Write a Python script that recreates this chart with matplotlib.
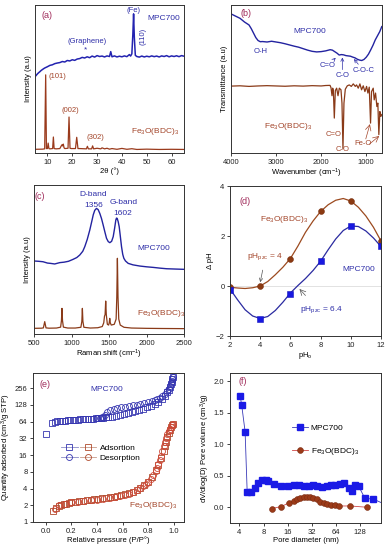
import matplotlib
matplotlib.use("Agg")
import matplotlib.pyplot as plt
from matplotlib.lines import Line2D
from matplotlib.legend_handler import HandlerTuple

plt.rcParams['font.family'] = ['Liberation Sans', 'DejaVu Sans']
plt.rcParams['mathtext.default'] = 'regular'

BLUE = '#2e2ea8'
BROWN = '#a3452a'
LBL = '#a02a5a'
FS_T = 5.5
FS_A = 6.0
FE = 'Fe$_3$O(BDC)$_3$'

# ---------------- (a) XRD ----------------
xrd_mpc_x = [5, 5.5, 6, 6.5, 7, 7.5, 8, 8.5, 9, 10, 11, 12, 13, 14, 15, 16, 17, 18, 19, 20,
             21, 22, 23, 24, 25, 26, 27, 28, 29, 30, 31, 32, 33, 34, 35, 35.5, 36, 37, 38, 39,
             40, 41, 42, 43, 43.5, 44, 44.4, 44.7, 45.0, 45.4, 46, 47, 48, 49, 50, 51, 52, 53,
             54, 55, 56, 57, 58, 59, 60, 61, 62, 63, 64, 65]
xrd_mpc_y = [51.5, 52.5, 53.5, 54.3, 55, 55.8, 56.4, 57, 57.5, 58.3, 59.2, 59.6, 60.4, 60.8, 61.1,
             61.8, 61.5, 62.5, 62.2, 63, 62.6, 63.5, 63.8, 64.6, 64.2, 65, 64.4, 65.5, 64.8, 65.8,
             65.2, 65.5, 64.9, 65.6, 65.2, 68.5, 65, 65.6, 64.9, 65.4, 65, 65.6, 65.1, 66.5, 65.5,
             67, 80, 94, 78, 66, 65.2, 64.8, 65.5, 64.9, 65.4, 65, 65.6, 65.1, 65.5, 64.9, 65.6,
             65.2, 65.8, 65, 65.6, 65.2, 65.7, 65.1, 65.8, 65.4]
xrd_fe_x = [5, 8, 8.9, 9.3, 9.6, 10.0, 10.3, 10.6, 11, 12.1, 12.4, 12.7, 13.5, 15, 15.8, 16.1,
            16.4, 16.7, 17, 18.3, 18.7, 19.1, 19.6, 21.3, 21.8, 22.3, 23, 25.7, 26.1, 26.5, 27.8,
            28.2, 28.6, 30, 31.5, 32, 33, 34, 35, 36, 38, 40, 42, 44, 46, 50, 55, 60, 65]
xrd_fe_y = [2.5, 2.6, 2.8, 52.8, 3.0, 3.0, 6.7, 3.0, 2.8, 3.0, 10.8, 3.0, 2.8, 3.0, 5.5, 4.8,
            6.0, 3.5, 3.0, 3.2, 24.3, 3.2, 3.0, 3.0, 10.6, 3.0, 3.0, 2.8, 4.5, 2.8, 2.8, 4.8, 2.8,
            3.2, 2.8, 3.5, 2.8, 3.2, 2.6, 3.0, 2.5, 3.1, 2.5, 2.9, 2.4, 2.6, 2.4, 2.5, 2.4]
xrd_xticks = [10, 20, 30, 40, 50, 60]

# ---------------- (b) FTIR ----------------
ftir_mpc_x = [4000, 3900, 3800, 3700, 3600, 3550, 3500, 3450, 3400, 3350, 3300, 3200, 3100, 3000,
              2900, 2800, 2700, 2600, 2500, 2400, 2300, 2200, 2100, 2000, 1900, 1800, 1750, 1700,
              1650, 1600, 1550, 1500, 1450, 1400, 1350, 1300, 1250, 1200, 1150, 1100, 1050, 1000,
              950, 900, 850, 800, 750, 700, 655]
ftir_mpc_y = [94, 92.5, 91, 88.5, 86.5, 84, 81, 78, 76, 75.2, 75.3, 75, 75.5, 75, 74.5, 73.8, 73,
              72.2, 71.5, 70.5, 69.5, 68.7, 68.3, 68.5, 69, 69.8, 69.5, 68.5, 67.5, 66.2, 66.5,
              66.3, 65.8, 65.6, 65.4, 64.8, 64.3, 63.4, 62.8, 62.5, 63.2, 64.7, 66.8, 69.7, 72.8,
              76.4, 79.2, 82, 85.4]
ftir_fe_x = [4000, 3800, 3600, 3400, 3200, 3000, 2800, 2600, 2400, 2200, 2000, 1900, 1803, 1781,
             1759, 1744, 1729, 1708, 1685, 1656, 1626, 1597, 1560, 1538, 1516, 1494, 1464, 1420,
             1376, 1331, 1287, 1243, 1214, 1177, 1140, 1103, 1066, 1029, 992, 963, 933, 904, 882,
             845, 823, 793, 764, 742, 720, 697, 675, 655]
ftir_fe_y = [45.2, 45.4, 45.0, 45.3, 45.5, 45.3, 45.1, 45.4, 45.2, 45.5, 45.3, 45.6, 45.7, 44.1,
             38.7, 43.8, 42.2, 23.6, 42.2, 43.8, 38.7, 43.8, 42.7, 33.7, 3.0, 33.7, 43.1, 45.4, 46,
             45, 46.7, 45, 46, 43.8, 46.7, 42.7, 45.4, 41.5, 45, 40.5, 44.5, 20.2, 41.5, 43.8, 35.9,
             40.5, 31.4, 33.7, 12.4, 28, 24.7, 26]
ftir_xticks = [4000, 3000, 2000, 1000]

# ---------------- (c) Raman ----------------
raman_mpc_x = [500, 560, 620, 680, 720, 776, 843, 900, 960, 1021, 1070, 1110, 1150, 1177, 1210,
               1244, 1270, 1290, 1310, 1333, 1355, 1377, 1400, 1422, 1445, 1467, 1490, 1511, 1535,
               1556, 1575, 1591, 1600, 1609, 1622, 1636, 1650, 1667, 1683, 1698, 1720, 1756, 1820,
               1912, 2000, 2090, 2180, 2268, 2380, 2500]
raman_mpc_y = [49, 48.8, 48.5, 47.6, 47.4, 47, 47.9, 48.2, 48.8, 50.1, 51.3, 53, 55.5, 58.6, 63.5,
               69.8, 75.5, 80, 83, 84.3, 83.5, 81, 77.5, 73.2, 68.5, 64.2, 62, 61.3, 62.2, 65.3,
               71, 76.5, 77.8, 77.6, 75.5, 72, 66, 58.6, 53.5, 50.8, 49, 47.4, 46.4, 45.6, 45.1,
               44.7, 44.2, 43.8, 43.6, 43.4]
raman_fe_x = [500, 600, 625, 643, 660, 700, 800, 855, 866, 873, 880, 892, 950, 1050, 1125, 1138,
              1145, 1152, 1165, 1250, 1350, 1410, 1430, 1440, 1448, 1456, 1464, 1478, 1495, 1503,
              1510, 1517, 1530, 1570, 1595, 1604, 1612, 1620, 1630, 1650, 1700, 1800, 2000, 2200,
              2500]
raman_fe_y = [3.8, 3.9, 4.1, 8.3, 4.1, 3.9, 4.0, 4.6, 9, 17.2, 9, 4.6, 4.0, 4.0, 4.5, 8.5, 17.2,
              8.5, 4.5, 4.0, 4.2, 5.0, 7.5, 12.0, 13, 22.1, 13, 6.5, 6.0, 7.5, 10.5, 7.5, 6.0, 6.5,
              10, 25, 50.8, 25, 10, 6, 4.5, 4, 3.8, 3.7, 3.6]
raman_xticks = [500, 1000, 1500, 2000, 2500]

# ---------------- (d) pH drift ----------------
ph0 = [2, 4, 6, 8, 10, 12]
dph_fe = [-0.05, 0.0, 1.1, 3.0, 3.4, 1.8]
dph_mpc = [-0.15, -1.3, -0.3, 1.0, 2.4, 1.6]
curve_ph = [2.0, 2.5, 3.0, 3.5, 4.0, 4.5, 5.0, 5.5, 6.0, 6.5, 7.0, 7.5, 8.0, 8.5, 9.0, 9.5, 10.0,
            10.5, 11.0, 11.5, 12.0]
curve_fe = [-0.05, -0.08, -0.1, -0.07, 0.0, 0.18, 0.45, 0.75, 1.1, 1.6, 2.15, 2.6, 2.98, 3.25,
            3.43, 3.5, 3.4, 3.15, 2.8, 2.35, 1.8]
curve_mpc = [-0.12, -0.55, -0.95, -1.2, -1.3, -1.22, -0.98, -0.65, -0.28, 0.02, 0.3, 0.62, 0.99,
             1.45, 1.88, 2.22, 2.4, 2.38, 2.2, 1.92, 1.58]

# ---------------- (e) isotherms ----------------
mpc_ads_p = [0.005, 0.045, 0.07, 0.09, 0.11, 0.13, 0.15, 0.17, 0.19, 0.21, 0.23, 0.25, 0.27, 0.29,
             0.31, 0.33, 0.35, 0.37, 0.39, 0.41, 0.43, 0.45, 0.47, 0.49, 0.52, 0.55, 0.58, 0.61,
             0.64, 0.67, 0.70, 0.73, 0.76, 0.79, 0.82, 0.85, 0.88, 0.91, 0.93, 0.95, 0.96, 0.97,
             0.98, 0.985, 0.99, 0.995]
mpc_ads_v = [39, 60, 64, 65, 66, 66.5, 67, 67.5, 68, 68.5, 69, 69.5, 70, 70.5, 71, 71.5, 72, 72.5,
             73, 74, 74.5, 75, 76, 77, 79, 81, 84, 87, 90, 94, 98, 103, 109, 116, 124, 133, 146,
             165, 185, 215, 240, 270, 305, 335, 370, 400]
mpc_des_p = [0.995, 0.99, 0.985, 0.98, 0.97, 0.96, 0.95, 0.93, 0.91, 0.89, 0.87, 0.85, 0.83, 0.80,
             0.77, 0.74, 0.71, 0.68, 0.65, 0.62, 0.59, 0.56, 0.53, 0.50, 0.48, 0.46, 0.44, 0.42,
             0.40]
mpc_des_v = [400, 380, 350, 320, 280, 250, 225, 200, 185, 172, 162, 155, 149, 143, 138, 134, 130,
             126, 122, 119, 116, 113, 110, 104, 95, 85, 78, 75, 73]
fe_ads_p = [0.06, 0.08, 0.10, 0.12, 0.14, 0.16, 0.18, 0.20, 0.23, 0.26, 0.29, 0.32, 0.35, 0.38,
            0.41, 0.44, 0.47, 0.50, 0.53, 0.56, 0.59, 0.62, 0.65, 0.68, 0.71, 0.74, 0.77, 0.80,
            0.83, 0.86, 0.88, 0.90, 0.92, 0.93, 0.94, 0.95, 0.96, 0.97, 0.98, 0.99, 0.995]
fe_ads_v = [1.6, 1.8, 1.95, 2.05, 2.1, 2.15, 2.2, 2.25, 2.3, 2.35, 2.4, 2.45, 2.5, 2.55, 2.6,
            2.65, 2.7, 2.78, 2.85, 2.95, 3.05, 3.15, 3.3, 3.5, 3.75, 4.1, 4.6, 5.3, 6.5, 8.5,
            10.5, 14, 19, 23, 28, 34, 40, 46, 51, 55, 57]
fe_des_p = [0.995, 0.99, 0.98, 0.97, 0.96, 0.95, 0.94, 0.93, 0.92, 0.91, 0.90, 0.89, 0.88, 0.87,
            0.86, 0.84, 0.82, 0.80, 0.78, 0.76, 0.74, 0.71, 0.68, 0.65, 0.62, 0.58, 0.54, 0.50,
            0.45, 0.40, 0.35, 0.30, 0.25, 0.20, 0.15, 0.10, 0.07]
fe_des_v = [57, 55, 52, 48, 43, 38, 33, 28, 23, 19, 15.5, 13, 11, 9.5, 8.3, 7, 6, 5.3, 4.8, 4.4,
            4.1, 3.7, 3.4, 3.2, 3.05, 2.9, 2.8, 2.7, 2.6, 2.5, 2.45, 2.4, 2.3, 2.25, 2.15, 2.0, 1.7]
iso_yticks = [1, 2, 4, 8, 16, 32, 64, 128, 256]
iso_xticks = [0.0, 0.2, 0.4, 0.6, 0.8, 1.0]

# ---------------- (f) pore size ----------------
psd_mpc_d = [4.08, 4.27, 4.71, 5.0, 5.6, 6.2, 6.9, 7.7, 8.5, 9.2, 10.9, 13.3, 16.4, 19.0, 21.9,
             25.3, 29.3, 32.8, 37.3, 43.0, 49.7, 56.4, 63.3, 73.2, 80.5, 93, 102, 110, 124, 148,
             188, 260]
psd_mpc_v = [1.77, 1.62, 1.2, 0.24, 0.24, 0.3, 0.38, 0.44, 0.44, 0.42, 0.37, 0.34, 0.34, 0.35,
             0.36, 0.34, 0.33, 0.35, 0.34, 0.32, 0.34, 0.35, 0.35, 0.37, 0.38, 0.30, 0.25, 0.36,
             0.33, 0.14, 0.13, 0.05]
psd_fe_d = [10.1, 13.3, 16.6, 19.0, 21.0, 23.0, 25.3, 27.9, 30.4, 33.6, 37.0, 41.0, 45.0, 50.0,
            56.0, 63.0, 71.0, 97.0, 157.0]
psd_fe_v = [-0.02, 0.01, 0.07, 0.10, 0.13, 0.14, 0.16, 0.16, 0.16, 0.15, 0.13, 0.09, 0.06, 0.05,
            0.04, 0.03, 0.02, 0.02, 0.0]
psd_xticks = [4, 8, 16, 32, 64, 128]
psd_yticks = [0.0, 0.5, 1.0, 1.5, 2.0]

W, H = 391, 550
fig = plt.figure(figsize=(W / 100, H / 100), dpi=100)


def make_ax(x0, y0, x1, y1):
    ax = fig.add_axes([x0 / W, 1 - y1 / H, (x1 - x0) / W, (y1 - y0) / H])
    for s in ax.spines.values():
        s.set_linewidth(0.7)
        s.set_color('#333333')
    ax.tick_params(direction='out', length=2.5, width=0.6, labelsize=FS_T, pad=1.5,
                   colors='#222222')
    return ax


# (a)
ax = make_ax(35, 5, 184, 153)
ax.plot(xrd_mpc_x, xrd_mpc_y, color='#2323b0', lw=1.1)
ax.plot(xrd_fe_x, xrd_fe_y, color='#9a3a1c', lw=0.9)
ax.set_xlim(5, 65)
ax.set_ylim(0, 100)
ax.set_xticks(xrd_xticks)
ax.set_yticks([])
ax.set_xlabel('2θ (°)', fontsize=FS_T, labelpad=1)
ax.set_ylabel('Intensity (a.u)', fontsize=FS_T, labelpad=2)
ax.text(10, 93, '(a)', color=LBL, fontsize=FS_A + 0.5, ha='center', va='center')
ax.text(44.6, 96.5, '(Fe)', color=BLUE, fontsize=FS_A - 0.5, ha='center', va='center')
ax.text(48.6, 79, '(110)', color=BLUE, fontsize=FS_A - 0.5, ha='center', va='center', rotation=90)
ax.text(56.7, 90.6, 'MPC700', color=BLUE, fontsize=FS_A, ha='center', va='center')
ax.text(26.1, 75.3, '(Graphene)', color=BLUE, fontsize=FS_A - 0.5, ha='center', va='center')
ax.text(25.4, 69.7, '*', color=BLUE, fontsize=FS_A, ha='center', va='center')
ax.text(10.3, 52, '(101)', color=BROWN, fontsize=FS_A - 0.5, ha='left', va='center')
ax.text(19.1, 28.5, '(002)', color=BROWN, fontsize=FS_A - 0.5, ha='center', va='center')
ax.text(29.2, 10.8, '(302)', color=BROWN, fontsize=FS_A - 0.5, ha='center', va='center')
ax.text(53.3, 14.6, FE, color=BROWN, fontsize=FS_A, ha='center', va='center')

# (b)
ax = make_ax(231, 5, 382, 153)
ax.plot(ftir_mpc_x, ftir_mpc_y, color='#2323a0', lw=1.0)
ax.plot(ftir_fe_x, ftir_fe_y, color='#8a3a18', lw=0.9)
ax.set_xlim(4000, 650)
ax.set_ylim(0, 100)
ax.set_xticks(ftir_xticks)
ax.set_yticks([])
ax.set_xlabel('Wavenumber (cm$^{-1}$)', fontsize=FS_T, labelpad=1)
ax.set_ylabel('Transmittance (a.u)', fontsize=FS_T, labelpad=2)
ax.text(3668, 94.4, '(b)', color=LBL, fontsize=FS_A + 0.5, ha='center', va='center')
ax.text(2245, 81.8, 'MPC700', color=BLUE, fontsize=FS_A, ha='center', va='center')
ax.text(3352, 68.5, 'O-H', color=BLUE, fontsize=FS_A - 0.5, ha='center', va='center')
arw = dict(arrowstyle='->', lw=0.5, shrinkA=0, shrinkB=0)
ax.annotate('C=O', xy=(1677, 64.3), xytext=(1860, 58.8), color=BLUE, fontsize=FS_A - 0.5,
            ha='center', va='center', arrowprops=dict(arw, color=BLUE))
ax.annotate('C-O', xy=(1530, 64.5), xytext=(1530, 52.1), color=BLUE, fontsize=FS_A - 0.5,
            ha='center', va='center', arrowprops=dict(arw, color=BLUE))
ax.annotate('C-O-C', xy=(1272, 63.5), xytext=(1060, 55.7), color=BLUE, fontsize=FS_A - 0.5,
            ha='center', va='center', arrowprops=dict(arw, color=BLUE))
ax.text(2733, 18, FE, color=BROWN, fontsize=FS_A, ha='center', va='center')
ax.text(1730, 12.4, 'C=O', color=BROWN, fontsize=FS_A - 0.5, ha='center', va='center')
ax.text(1530, 2.6, 'C-O', color=BROWN, fontsize=FS_A - 0.5, ha='center', va='center')
ax.text(1066, 6.7, 'Fe-O', color=BROWN, fontsize=FS_A - 0.5, ha='center', va='center')
ax.annotate('', xy=(918, 19.5), xytext=(1010, 9.5), arrowprops=dict(arw, color=BROWN))
ax.annotate('', xy=(712, 11.5), xytext=(930, 6.0), arrowprops=dict(arw, color=BROWN))

# (c)
ax = make_ax(34, 185, 184, 334)
ax.plot(raman_mpc_x, raman_mpc_y, color='#2323a0', lw=1.0)
ax.plot(raman_fe_x, raman_fe_y, color='#8a3a18', lw=0.9)
ax.set_xlim(500, 2500)
ax.set_ylim(0, 100)
ax.set_xticks(raman_xticks)
ax.set_yticks([])
ax.set_xlabel('Raman shift (cm$^{-1}$)', fontsize=FS_T, labelpad=1)
ax.set_ylabel('Intensity (a.u)', fontsize=FS_T, labelpad=2)
ax.text(575, 92, '(c)', color=LBL, fontsize=FS_A + 0.5, ha='center', va='center')
ax.text(1290, 93.5, 'D-band', color=BLUE, fontsize=FS_A, ha='center', va='center')
ax.text(1295, 86, '1356', color=BLUE, fontsize=FS_A, ha='center', va='center')
ax.text(1690, 88.5, 'G-band', color=BLUE, fontsize=FS_A, ha='center', va='center')
ax.text(1680, 81, '1602', color=BLUE, fontsize=FS_A, ha='center', va='center')
ax.text(2090, 57.5, 'MPC700', color=BLUE, fontsize=FS_A, ha='center', va='center')
ax.text(2188, 13.9, FE, color=BROWN, fontsize=FS_A, ha='center', va='center')

# (d)
ax = make_ax(230, 186, 381, 336)
ax.axhline(0, color='#dddddd', lw=0.6, zorder=0)
ax.plot(curve_ph, curve_fe, color='#9c4a1f', lw=0.9)
ax.plot(curve_ph, curve_mpc, color='#2a2aa0', lw=0.9)
ax.plot(ph0, dph_fe, 'o', color='#8b3a12', ms=4.2, mec='#7a3010', mew=0.4)
ax.plot(ph0, dph_mpc, 's', color='#1818e0', ms=4.0, mec='#1515c0', mew=0.4)
ax.set_xlim(2, 12)
ax.set_ylim(-2, 4)
ax.set_xticks([2, 4, 6, 8, 10, 12])
ax.set_yticks([-2, 0, 2, 4])
ax.set_xlabel('pH$_o$', fontsize=FS_T, labelpad=1)
ax.set_ylabel('Δ pH', fontsize=FS_T, labelpad=1)
ax.text(3.0, 3.4, '(d)', color=LBL, fontsize=FS_A + 0.5, ha='center', va='center')
ax.text(5.55, 2.68, FE, color=BROWN, fontsize=FS_A, ha='center', va='center')
ax.annotate('pH$_{pzc}$ = 4', xy=(4, 0.15), xytext=(4.35, 1.18), color=BROWN, fontsize=FS_A,
            ha='center', va='center',
            arrowprops=dict(arrowstyle='->', lw=0.5, color='#555555', shrinkA=4, shrinkB=0))
ax.text(10.55, 0.68, 'MPC700', color=BLUE, fontsize=FS_A, ha='center', va='center')
ax.text(8.05, -0.93, 'pH$_{pzc}$ = 6.4', color=BLUE, fontsize=FS_A, ha='center', va='center')
ax.annotate('', xy=(6.6, -0.12), xytext=(7.0, -0.38),
            arrowprops=dict(arrowstyle='->', lw=0.5, color='#555555', shrinkA=0, shrinkB=0))

# (e)
ax = make_ax(33, 373, 184, 522)
ax.set_yscale('log', base=2)
mk = dict(mfc='none', mew=0.6, ms=4.3, ls='none')
ax.plot(mpc_ads_p, mpc_ads_v, marker='s', mec='#3535b0', **mk)
ax.plot(mpc_des_p, mpc_des_v, marker='o', mec='#3535b0', **mk)
ax.plot(fe_ads_p, fe_ads_v, marker='s', mec='#b04a2c', **mk)
ax.plot(fe_des_p, fe_des_v, marker='o', mec='#d04838', **mk)
ax.set_xlim(-0.1, 1.08)
ax.set_ylim(1, 480)
ax.set_yticks(iso_yticks)
ax.set_yticklabels([str(v) for v in iso_yticks])
ax.yaxis.set_minor_locator(matplotlib.ticker.NullLocator())
ax.set_xticks(iso_xticks)
ax.set_xticklabels(['%.1f' % v for v in iso_xticks])
ax.set_xlabel('Relative pressure (P/P°)', fontsize=FS_T, labelpad=1)
ax.set_ylabel('Quantity adsorbed (cm$^3$/g STP)', fontsize=FS_T, labelpad=1)
ax.text(-0.01, 300, '(e)', color=LBL, fontsize=FS_A + 0.5, ha='center', va='center')
ax.text(0.476, 242, 'MPC700', color=BLUE, fontsize=FS_A, ha='center', va='center')
ax.text(0.84, 2.0, FE, color=BROWN, fontsize=FS_A, ha='center', va='center')
lk = dict(mfc='none', mew=0.6, ms=4.3, lw=0.6)
h1 = (Line2D([], [], marker='s', color='#8a8ac8', mec='#3535b0', **lk),
      Line2D([], [], marker='s', color='#c89a8a', mec='#b04a2c', **lk))
h2 = (Line2D([], [], marker='o', color='#8a8ac8', mec='#3535b0', **lk),
      Line2D([], [], marker='o', color='#c89a8a', mec='#b04a2c', **lk))
ax.legend([h1, h2], ['Adsortion', 'Desorption'],
          handler_map={tuple: HandlerTuple(ndivide=None, pad=0.3)},
          loc='center left', bbox_to_anchor=(0.16, 0.465), frameon=False, fontsize=FS_A,
          handlelength=4.2, handletextpad=0.4, labelspacing=0.25, borderpad=0)

# (f)
ax = make_ax(230, 373, 381, 523)
ax.set_xscale('log', base=2)
ax.plot(psd_mpc_d, psd_mpc_v, '-s', color='#3a3ab8', lw=0.6, mfc='#1a1ae6', mec='#1a1ae6',
        ms=4.0, label='MPC700')
ax.plot(psd_fe_d, psd_fe_v, '-o', color='#d04848', lw=0.6, mfc='#9b3a18', mec='#7a2a10',
        mew=0.4, ms=4.2, label=FE)
ax.set_xlim(3.05, 235)
ax.set_ylim(-0.25, 2.13)
ax.set_xticks(psd_xticks)
ax.set_xticklabels([str(v) for v in psd_xticks])
ax.xaxis.set_minor_locator(matplotlib.ticker.NullLocator())
ax.set_yticks(psd_yticks)
ax.set_yticklabels(['%.1f' % v for v in psd_yticks])
ax.set_xlabel('Pore diameter (nm)', fontsize=FS_T, labelpad=1)
ax.set_ylabel('dV/dlog(D) Pore volume (cm$^3$/g)', fontsize=FS_T, labelpad=1)
ax.text(4.4, 2.0, '(f)', color=LBL, fontsize=FS_A + 0.5, ha='center', va='center')
ax.legend(loc='center left', bbox_to_anchor=(0.38, 0.55), frameon=False, fontsize=FS_A,
          handlelength=2.0, handletextpad=0.3, labelspacing=1.6, borderpad=0)

fig.savefig('out.png', dpi=100)
